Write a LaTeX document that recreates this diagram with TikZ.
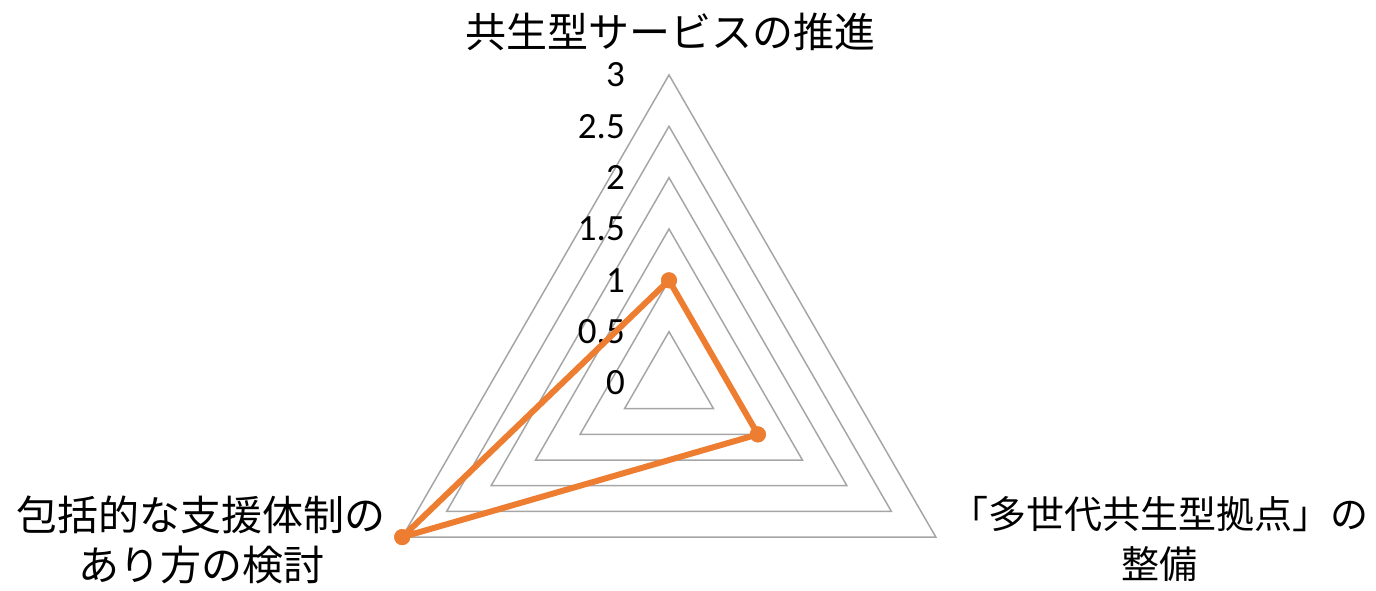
\documentclass[tikz,border=0pt]{standalone}
\usepackage{fontspec}
\setmainfont{Carlito}
\newfontfamily\jpfont{Noto Sans CJK JP}
\definecolor{chartorange}{HTML}{ED7D31}
\definecolor{gridgray}{HTML}{A6A6A6}

\begin{document}
\begin{tikzpicture}[x=1pt,y=-1pt,
        grid/.style={draw=gridgray,line width=1.5pt},
        val/.style={anchor=east,inner sep=0pt,font=\fontsize{37}{37}\selectfont},
        cat/.style={align=center,inner sep=0pt,font=\jpfont\fontsize{41}{50}\selectfont},
        pt/.style={circle,fill=chartorange,inner sep=0pt,minimum size=16pt}]
        \useasboundingbox (0,0) rectangle (1376,590);

        \coordinate (O) at (669,383);

        \foreach \r in {0.5,1,...,3}
          \draw[grid,shift={(O)}] (0,-102.7*\r) -- (88.94*\r,51.35*\r) -- (-88.94*\r,51.35*\r) -- cycle;

        \foreach \v in {0,0.5,1,1.5,2,2.5,3}
          \node[val] at (625,383-102.7*\v) {\v};

        \node[cat] (top) at (670,32) {共生型サービスの推進};
        \node[cat,font=\jpfont\fontsize{38}{50}\selectfont] (right) at (1159,539) {「多世代共生型拠点」の\\整備};
        \node[cat] (left) at (201,540) {包括的な支援体制の\\あり方の検討};

        \node[pt] (p1) at (669,280.3) {};
        \node[pt] (p2) at (757.9,434.4) {};
        \node[pt] (p3) at (402.2,537.1) {};

        \draw[chartorange,line width=6pt,line join=round] (p1.center) -- (p2.center) -- (p3.center) -- cycle;
        \foreach \p in {p1,p2,p3}
          \fill[chartorange] (\p) circle (8pt);
\end{tikzpicture}
\end{document}
